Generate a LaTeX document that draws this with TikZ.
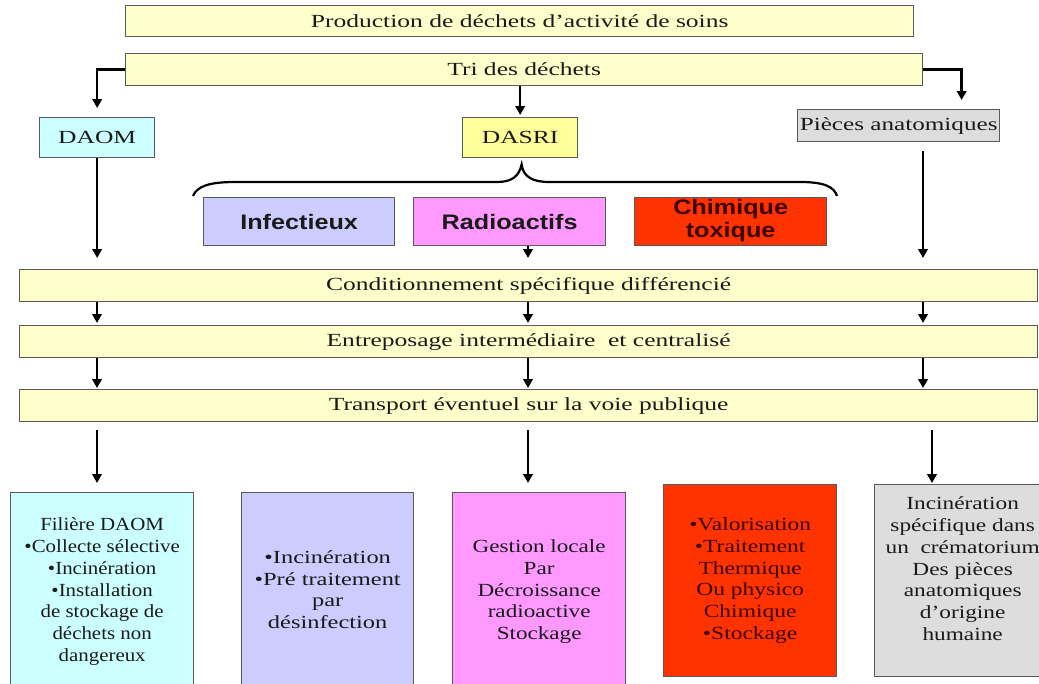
\documentclass[tikz,border=0pt]{standalone}
\usepackage{fontspec}
\usepackage{graphicx}
\setmainfont{Liberation Serif}
\newfontfamily\sansbold{Liberation Sans}
\usetikzlibrary{arrows.meta,calc}
\definecolor{edgec}{HTML}{5A5A5A}
\definecolor{barfill}{HTML}{FFFFCC}
\definecolor{cyanfill}{HTML}{CCFFFF}
\definecolor{yelfill}{HTML}{FFFF99}
\definecolor{grayfill}{HTML}{DDDDDD}
\definecolor{lavfill}{HTML}{CCCCFF}
\definecolor{pinkfill}{HTML}{FF99FF}
\definecolor{redfill}{HTML}{FF3300}
\definecolor{txtc}{HTML}{1A1A1A}
\definecolor{redtxt}{HTML}{3D0000}
\newcommand{\hsc}[2]{\scalebox{#1}[1]{#2}}
\newcommand{\lines}[1]{\begin{tabular}{@{}c@{}}#1\end{tabular}}
\begin{document}
\begin{tikzpicture}[x=1pt,y=-1pt,
  box/.style={draw=edgec, line width=1.3pt, inner sep=0pt, anchor=north west,
    font=\fontsize{18.5}{21.8}\selectfont, text=txtc},
  bar/.style={box, fill=barfill},
  catbox/.style={box, font=\sansbold\bfseries\fontsize{21}{23}\selectfont},
  arr/.style={line width=2.6pt, -{Triangle[length=9pt,width=9.5pt]}},
  brace/.style={line width=2.2pt}
]
\clip (0,0) rectangle (1039,683);
\fill[white] (0,0) rectangle (1039,683);

% column coordinates
\coordinate (colA) at (97,0);
\coordinate (colB) at (528,0);
\coordinate (colC) at (923,0);
\coordinate (colD) at (932,0);

% top bars
\node[bar, minimum width=788pt, minimum height=31pt] (prod) at (125,5)
  {\hsc{1.38}{Production de déchets d’activité de soins}};
\node[bar, minimum width=797pt, minimum height=32pt] (tri) at (125,53)
  {\hsc{1.38}{Tri des déchets}};

% categories
\node[box, fill=cyanfill, minimum width=115pt, minimum height=40pt] (daom) at (39,117)
  {\hsc{1.38}{DAOM}};
\node[box, fill=yelfill, minimum width=115pt, minimum height=40pt] (dasri) at (462,117)
  {\hsc{1.38}{DASRI}};
\node[box, fill=grayfill, minimum width=202pt, minimum height=32pt] (pieces) at (797,109)
  {\hsc{1.36}{Pièces anatomiques}};

% DASRI sub-categories
\node[catbox, fill=lavfill, minimum width=191pt, minimum height=48pt] (inf) at (203,197)
  {\hsc{1.2}{Infectieux}};
\node[catbox, fill=pinkfill, minimum width=192pt, minimum height=48pt] (rad) at (413,197)
  {\hsc{1.2}{Radioactifs}};
\node[catbox, fill=redfill, text=redtxt, minimum width=192pt, minimum height=48pt] (chim) at (634,197)
  {\hsc{1.2}{\lines{Chimique\\toxique}}};

% brace under DASRI
\coordinate (btip) at ($(dasri.south)+(1.5,6)$);
\draw[brace] (193,196) .. controls (197,186) and (210,182) .. (235,182)
  -- (497,182) .. controls (511,182) and (519,177) .. (btip)
  .. controls (523,177) and (533,182) .. (549,182)
  -- (800,182) .. controls (825,182) and (834,187) .. (837,196);

% process bars
\node[bar, minimum width=1018pt, minimum height=32pt] (cond) at (19,269)
  {\hsc{1.38}{Conditionnement spécifique différencié}};
\node[bar, minimum width=1018pt, minimum height=32pt] (ent) at (19,325)
  {\hsc{1.38}{Entreposage intermédiaire\ \ et centralisé}};
\node[bar, minimum width=1018pt, minimum height=32pt] (trans) at (19,389)
  {\hsc{1.38}{Transport éventuel sur la voie publique}};

% bottom boxes
\node[box, fill=cyanfill, minimum width=183pt, minimum height=198pt] (b1) at (10,492)
  {\hsc{1.13}{\lines{Filière DAOM\\•Collecte sélective\\•Incinération\\•Installation\\de stockage de\\déchets non\\dangereux}}};
\node[box, fill=lavfill, minimum width=172pt, minimum height=198pt] (b2) at (241,492)
  {\hsc{1.32}{\lines{•Incinération\\•Pré traitement\\par\\désinfection}}};
\node[box, fill=pinkfill, minimum width=173pt, minimum height=198pt] (b3) at (452,492)
  {\hsc{1.25}{\lines{Gestion locale\\Par\\Décroissance\\radioactive\\Stockage}}};
\node[box, fill=redfill, text=redtxt, minimum width=173pt, minimum height=192pt] (b4) at (663,484)
  {\hsc{1.27}{\lines{•Valorisation\\•Traitement\\Thermique\\Ou physico\\Chimique\\•Stockage}}};
\node[box, fill=grayfill, minimum width=176pt, minimum height=192pt] (b5) at (874,484) {};
\node[font=\fontsize{18.5}{21.8}\selectfont, text=txtc, inner sep=0pt] (b5t) at ($(b5.center)+(0,-10)$)
  {\hsc{1.26}{\lines{Incinération\\spécifique dans\\un\ \ crématorium\\Des pièces\\anatomiques\\d’origine\\humaine}}};

% connectors from Tri
\draw[arr, shorten >=9pt] (tri.west) -| (daom.north);
\draw[arr, shorten >=2pt] (tri.south -| dasri.north) -- (dasri.north);
\draw[arr, shorten >=9pt] (tri.east) -| ($(pieces.north)+(63,0)$);

% into Conditionnement
\draw[arr, shorten >=11pt] (daom.south) -- (daom.south |- cond.north);
\draw[arr, shorten >=11pt] (rad.south -| colB) -- (cond.north -| colB);
\draw[arr, shorten <=9pt, shorten >=11pt] (pieces.south -| colC) -- (cond.north -| colC);

% Conditionnement -> Entreposage -> Transport
\foreach \c in {colA,colB,colC}{
  \draw[arr, shorten >=2pt] (cond.south -| \c) -- (ent.north -| \c);
  \draw[arr, shorten >=1pt] (ent.south -| \c) -- (trans.north -| \c);
}

% Transport -> treatments
\draw[arr, shorten <=8pt, shorten >=9pt] (trans.south -| colA) -- (b1.north -| colA);
\draw[arr, shorten <=8pt, shorten >=9pt] (trans.south -| colB) -- (b3.north -| colB);
\draw[arr, shorten <=8pt, shorten >=1pt] (trans.south -| colD) -- (b5.north -| colD);
\end{tikzpicture}
\end{document}
